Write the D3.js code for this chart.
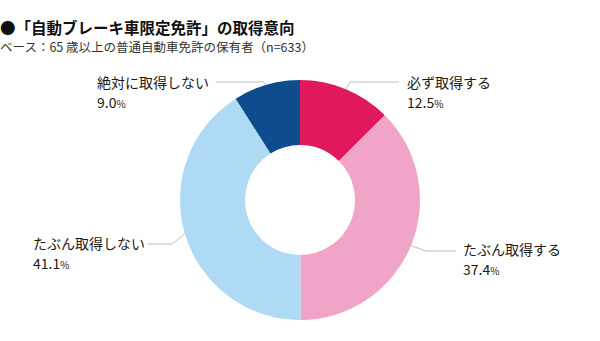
<!DOCTYPE html>
<html>
<head>
<meta charset="utf-8">
<script src="https://cdn.jsdelivr.net/npm/d3@7"></script>
<style>
  html, body { margin: 0; padding: 0; background: #fff; }
  svg { display: block; font-family: "Noto Sans CJK JP", "Noto Sans", sans-serif; }
</style>
</head>
<body>
<svg id="chart" width="600" height="341"></svg>
<script>
// Survey answers, clockwise from 12 o'clock
const categories = ["必ず取得する", "たぶん取得する", "たぶん取得しない", "絶対に取得しない"];
const values = [12.5, 37.4, 41.1, 9.0];
const colors = ["#e0195e", "#f0a5c6", "#aedbf3", "#0f4c8e"];

const titleText = "●「自動ブレーキ車限定免許」の取得意向";
const subtitleText = "ベース：65 歳以上の普通自動車免許の保有者（n=633）";

// Where each callout sits: horizontal leader y, elbow x, leader end x, text x
const callouts = [
  { lineY: 82,  elbowX: 350, endX: 399, textX: 407, labelY: 88,  pctY: 108 },
  { lineY: 251, elbowX: 426, endX: 456, textX: 463, labelY: 255, pctY: 275 },
  { lineY: 244, elbowX: 172, endX: 148, textX: 33,  labelY: 249, pctY: 269 },
  { lineY: 82,  elbowX: 263, endX: 216, textX: 97,  labelY: 88,  pctY: 108 }
];

const svg = d3.select("#chart");
const cx = 300, cy = 200, outerR = 120, innerR = 55;
const textColor = "#231815";

svg.append("text")
  .attr("x", 0).attr("y", 34)
  .attr("font-size", 15.5).attr("font-weight", 700)
  .attr("fill", "#111")
  .text(titleText);

svg.append("text")
  .attr("x", 0).attr("y", 52)
  .attr("font-size", 12.5)
  .attr("fill", "#333")
  .text(subtitleText);

const data = categories.map((c, i) => ({ name: c, value: values[i], color: colors[i], callout: callouts[i] }));

const pie = d3.pie().value(d => d.value).sort(null);
const arc = d3.arc().innerRadius(innerR).outerRadius(outerR);
const arcs = pie(data);

const g = svg.append("g").attr("transform", `translate(${cx},${cy})`);

g.selectAll("path.slice")
  .data(arcs)
  .join("path")
  .attr("class", "slice")
  .attr("d", arc)
  .attr("fill", d => d.data.color);

// Leader lines: from the outer edge at the slice's mid angle, to an elbow, then horizontal
const leaders = svg.append("g");
arcs.forEach(a => {
  const mid = (a.startAngle + a.endAngle) / 2;
  const sx = cx + outerR * Math.sin(mid);
  const sy = cy - outerR * Math.cos(mid);
  const c = a.data.callout;
  leaders.append("polyline")
    .attr("points", [[sx, sy], [c.elbowX, c.lineY], [c.endX, c.lineY]].map(p => p.join(",")).join(" "))
    .attr("fill", "none")
    .attr("stroke", "#bdbdbd")
    .attr("stroke-width", 1);
});

const labels = svg.append("g").attr("fill", textColor);
arcs.forEach(a => {
  const c = a.data.callout;
  labels.append("text")
    .attr("x", c.textX).attr("y", c.labelY)
    .attr("font-size", 14)
    .text(a.data.name);
  const t = labels.append("text")
    .attr("x", c.textX).attr("y", c.pctY)
    .attr("font-size", 14);
  t.append("tspan").text(a.data.value.toFixed(1));
  t.append("tspan").attr("font-size", 10).text("%");
});
</script>
</body>
</html>
